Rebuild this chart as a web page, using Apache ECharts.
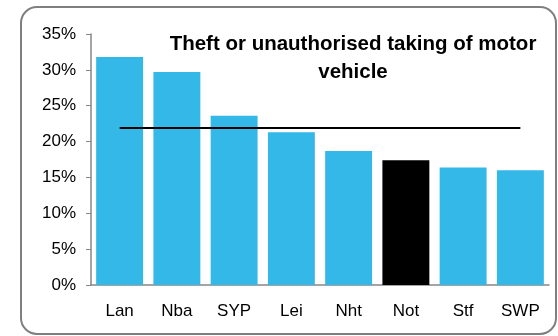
<!DOCTYPE html>
<html><head><meta charset="utf-8">
<script src="https://cdn.jsdelivr.net/npm/echarts@6/dist/echarts.min.js"></script>
<style>html,body{margin:0;padding:0;background:#fff}#c{width:558px;height:336px}</style>
</head><body><div id="c"></div>
<script>
const categories = ["Lan","Nba","SYP","Lei","Nht","Not","Stf","SWP"];
const values = [31.8, 29.7, 23.6, 21.3, 18.7, 17.4, 16.4, 16.0];
const averageLine = [21.9, 21.9, 21.9, 21.9, 21.9, 21.9, 21.9, 21.9];
const highlight = "Not";
const titleText = "Theft or unauthorised taking of motor\nvehicle";

const chart = echarts.init(document.getElementById('c'), null, {renderer:'canvas'});
chart.setOption({
  animation:false,
  title:{text:titleText,left:348,top:25,textAlign:'center',
    textStyle:{fontFamily:'Liberation Sans, Arial',fontSize:20.5,fontWeight:'bold',color:'#000',lineHeight:28}},
  graphic:[{type:'rect',shape:{x:21,y:7,width:535,height:327,r:16},
    style:{fill:'none',stroke:'#7f7f7f',lineWidth:2},silent:true,z:-1}],
  grid:{left:91,right:9,top:34,bottom:51,containLabel:false},
  xAxis:{type:'category',data:categories,
    axisLine:{lineStyle:{color:'#868686',width:1.5}},axisTick:{show:false},
    axisLabel:{fontFamily:'Liberation Sans, Arial',fontSize:17,color:'#000',margin:18}},
  yAxis:{type:'value',min:0,max:35,interval:5,
    axisLine:{show:true,lineStyle:{color:'#868686',width:1.5}},
    axisTick:{show:true,length:5,lineStyle:{color:'#868686'}},
    splitLine:{show:false},
    axisLabel:{formatter:'{value}%',fontFamily:'Liberation Sans, Arial',fontSize:17,color:'#000',margin:15}},
  series:[
    {type:'bar',barCategoryGap:'18%',
     data:values.map((v,i)=>({value:v,itemStyle:{color:categories[i]===highlight?'#000000':'#33b8e8'}}))},
    {type:'line',data:averageLine,symbol:'none',lineStyle:{color:'#000',width:2},z:5}
  ]
});
</script></body></html>
